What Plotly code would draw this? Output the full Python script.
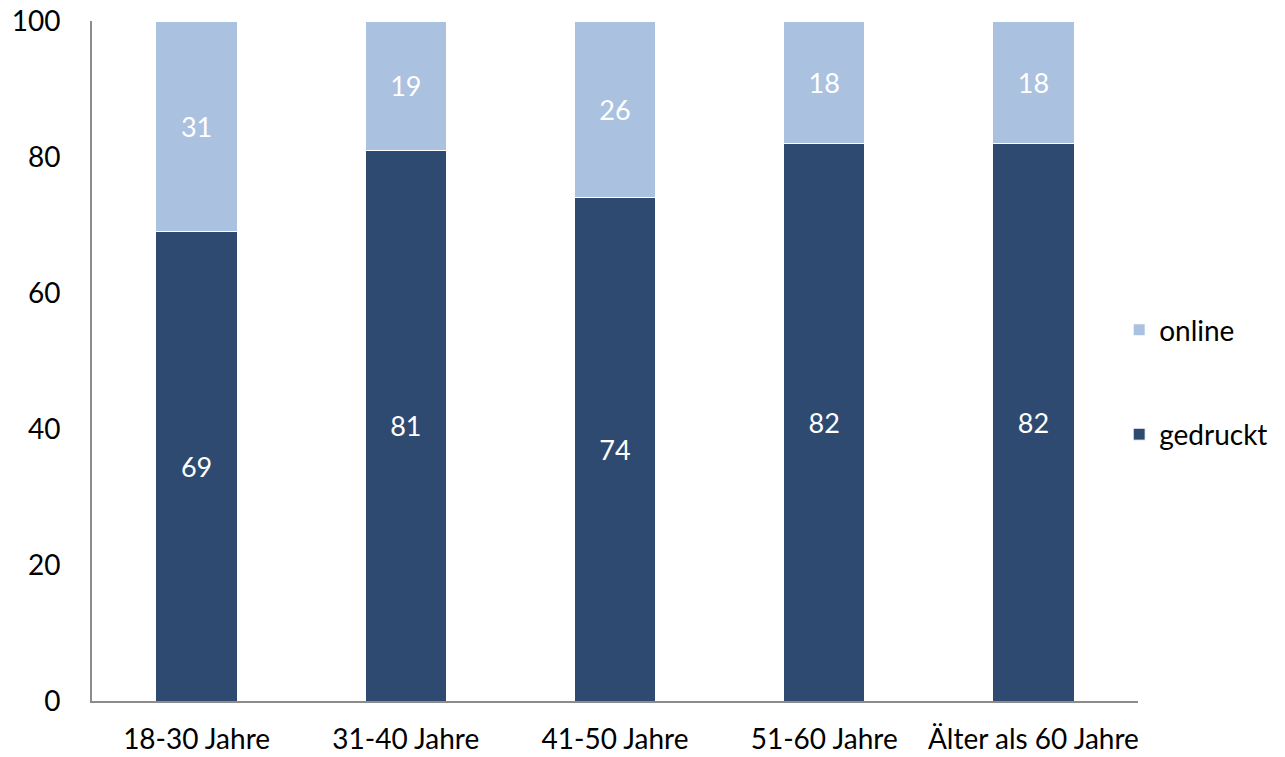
import plotly.graph_objects as go

categories = ["18-30 Jahre", "31-40 Jahre", "41-50 Jahre", "51-60 Jahre", "Älter als 60 Jahre"]
gedruckt = [69, 81, 74, 82, 82]
online = [31, 19, 26, 18, 18]

FONT = "Lato, Calibri, Carlito, sans-serif"

fig = go.Figure()
fig.add_trace(go.Bar(
    x=categories, y=gedruckt, name="gedruckt", legendgroup="g", legendrank=2,
    marker=dict(color="#2E4A70", line=dict(color="white", width=1)),
    text=gedruckt, textposition="inside", insidetextanchor="middle",
    textfont=dict(color="white", size=27, family=FONT),
))
fig.add_trace(go.Bar(
    x=categories, y=online, name="online", legendgroup="o", legendrank=1,
    marker=dict(color="#ABC1E0", line=dict(color="white", width=1)),
    text=online, textposition="inside", insidetextanchor="middle",
    textfont=dict(color="white", size=27, family=FONT),
))

fig.update_layout(
    barmode="stack",
    bargap=0.61,
    width=1285, height=757,
    margin=dict(l=92, r=147, t=21, b=56, autoexpand=False),
    paper_bgcolor="white", plot_bgcolor="white",
    font=dict(family=FONT, size=28, color="black"),
    uniformtext=dict(mode=False),
    legend=dict(
        x=0.982, xanchor="left", y=0.469, yanchor="middle",
        traceorder="grouped", tracegroupgap=65,
        font=dict(size=28, family=FONT),
        itemwidth=30,
    ),
    xaxis=dict(
        showline=True, linecolor="#8C8C8C", linewidth=2, automargin=False,
        showgrid=False, ticks="", ticklabelstandoff=12,
        tickfont=dict(size=28),
    ),
    yaxis=dict(
        range=[0, 100], dtick=20, showline=True, linecolor="#8C8C8C", linewidth=2,
        automargin=False,
        showgrid=False, zeroline=False, ticks="", ticklabelstandoff=24,
    ),
)

fig.write_html("out.html", post_script="document.body.style.margin='0';",
               config={"displayModeBar": False})
